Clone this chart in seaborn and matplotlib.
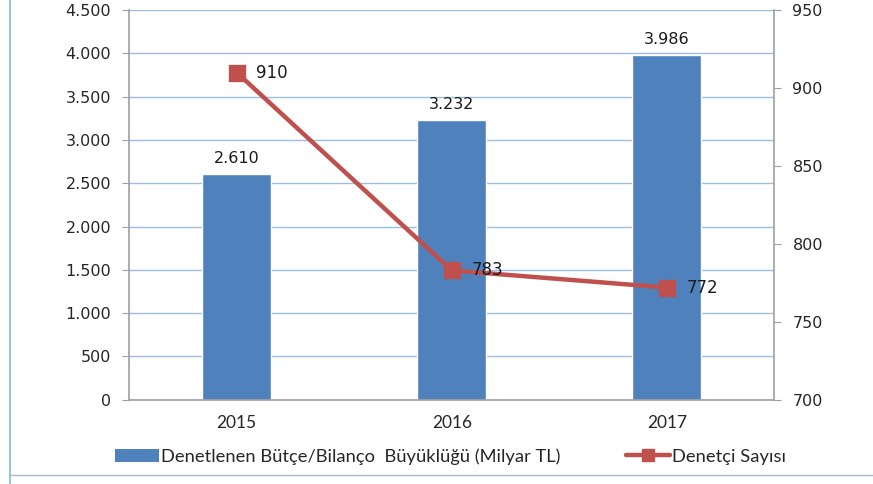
import pandas as pd
import matplotlib
matplotlib.use('Agg')
import matplotlib.pyplot as plt
import matplotlib.ticker as mticker
from matplotlib.lines import Line2D
from matplotlib.patches import Patch
import seaborn as sns

years = ['2015', '2016', '2017']
budget = [2610, 3232, 3986]
auditors = [910, 783, 772]
bar_label = 'Denetlenen Bütçe/Bilanço  Büyüklüğü (Milyar TL)'
line_label = 'Denetçi Sayısı'

df = pd.DataFrame({'year': years, 'budget': budget, 'auditors': auditors})

sns.set_style('white')
plt.rcParams['font.family'] = ['DejaVu Sans']

bar_color = '#4F81BD'
line_color = '#C0504D'
grid_color = '#9DBDE3'
axis_color = '#A0A0A0'


def dot_thousands(v, pos=None):
    return f'{int(round(v)):,}'.replace(',', '.')


fig = plt.figure(figsize=(8.73, 4.84), dpi=100)
ax = fig.add_axes([0.148, 0.174, 0.739, 0.805])

sns.barplot(data=df, x='year', y='budget', color=bar_color, width=0.32,
            saturation=1, ax=ax, zorder=2)
ax.set_ylim(0, 4500)
ax.set_yticks(range(0, 4501, 500))
ax.yaxis.set_major_formatter(mticker.FuncFormatter(dot_thousands))
ax.yaxis.grid(True, color=grid_color, linewidth=1)
ax.set_axisbelow(True)
for b, v in zip(ax.patches, budget):
    ax.text(b.get_x() + b.get_width() / 2, v + 90, dot_thousands(v),
            ha='center', va='bottom', fontsize=11.5, color='#1a1a1a')

ax2 = ax.twinx()
sns.pointplot(data=df, x='year', y='auditors', color=line_color, markers='s',
              linestyles='-', ax=ax2, markersize=9.5, linewidth=3.2)
ax2.set_ylim(700, 950)
ax2.set_yticks(range(700, 951, 50))
for i, v in enumerate(auditors):
    ax2.text(i + 0.09, v, str(v), ha='left', va='center', fontsize=12,
             color='#1a1a1a')

for a in (ax, ax2):
    a.set_xlim(-0.5, 2.5)
    a.set_xlabel('')
    a.set_ylabel('')
    for s in a.spines.values():
        s.set_visible(False)
ax.spines['left'].set_visible(True)
ax.spines['bottom'].set_visible(True)
ax2.spines['right'].set_visible(True)
for s in (ax.spines['left'], ax.spines['bottom'], ax2.spines['right']):
    s.set_color(axis_color)
    s.set_linewidth(1.2)

ax.set_xticks([0, 1, 2])
ax.set_xticklabels(years, fontsize=12.5, family=['Lato', 'DejaVu Sans'])
ax.set_xticks([-0.5, 0.5, 1.5, 2.5], minor=True)
ax.tick_params(axis='x', which='major', length=0, pad=11)
ax.tick_params(axis='x', which='minor', length=5, color=axis_color, direction='out')
ax.tick_params(axis='y', length=5, color=axis_color, direction='out', labelsize=11.5, pad=8)
ax2.tick_params(axis='y', length=5, color=axis_color, direction='out', labelsize=11.5, pad=8)
ax2.tick_params(axis='x', length=0)

handles = [Patch(facecolor=bar_color, edgecolor='none'),
           Line2D([0], [0], color=line_color, lw=3.2, marker='s', markersize=9)]
fig.legend(handles, [bar_label, line_label], loc='center',
           bbox_to_anchor=(0.516, 0.057), ncol=2, frameon=False,
           prop={'family': ['Lato', 'DejaVu Sans'], 'size': 13.2},
           handlelength=2.4, handletextpad=0.1, columnspacing=3.6)

fig.add_artist(Line2D([0.012, 0.012], [0.0, 1.0], color='#8DB3E2', lw=1.2))
fig.add_artist(Line2D([0.012, 1.0], [0.018, 0.018], color='#A8B8CC', lw=1.0))

fig.savefig('out.png', dpi=100)
